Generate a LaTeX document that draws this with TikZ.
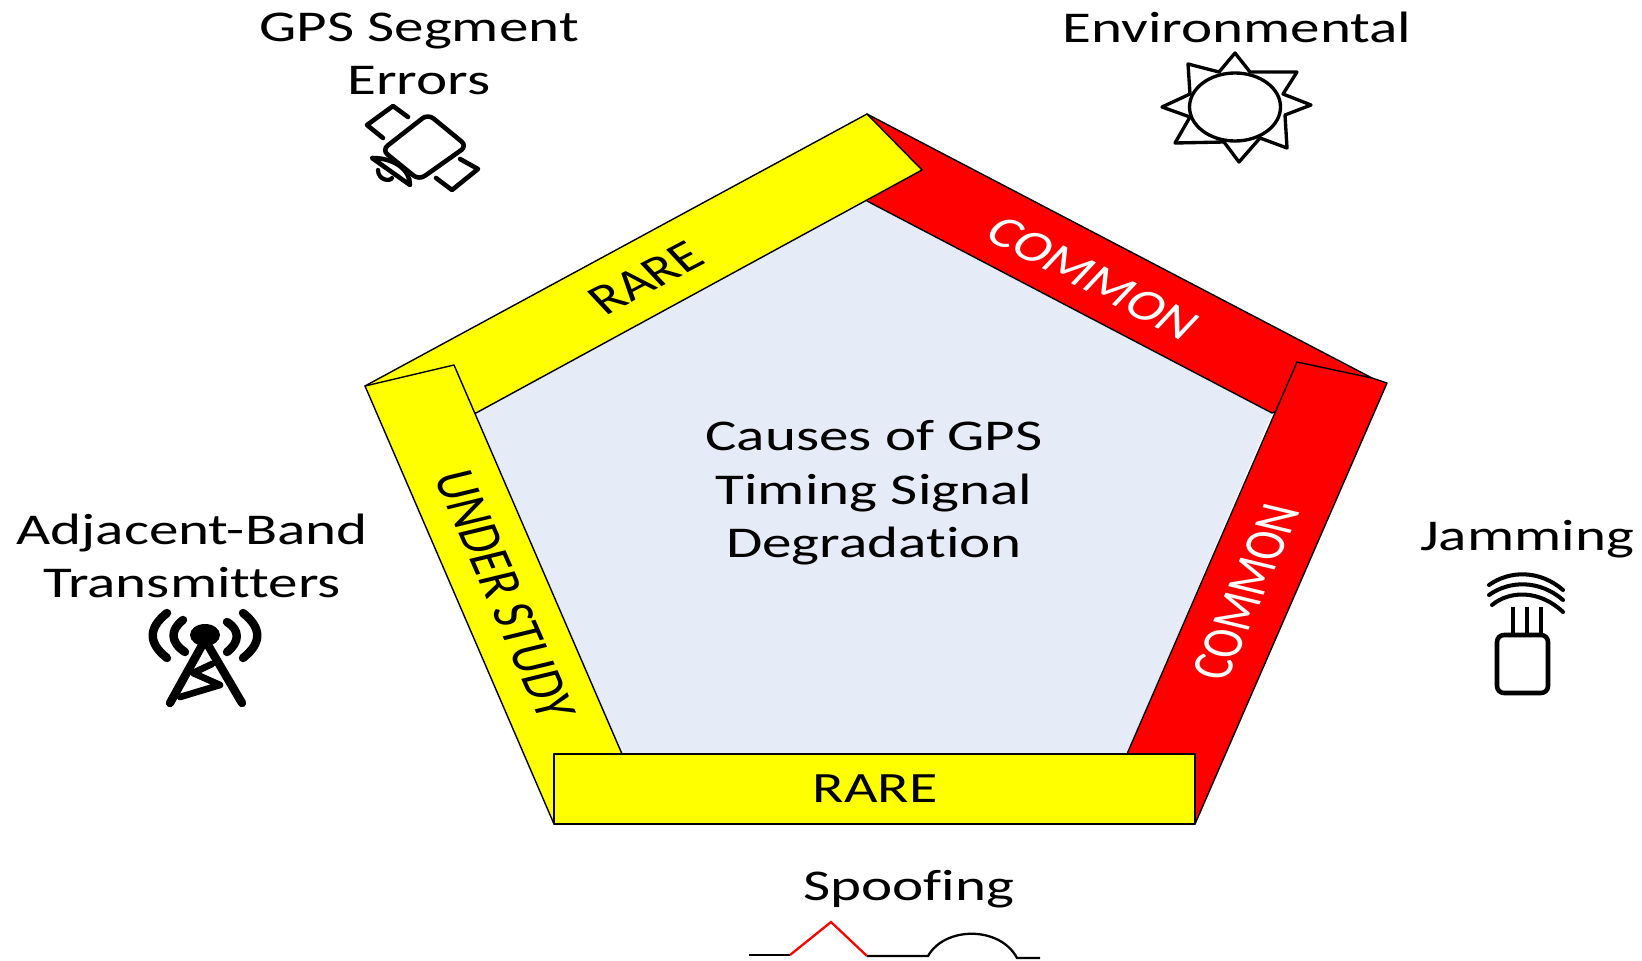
\documentclass[tikz,border=0pt]{standalone}
\usepackage{fontspec}
\setmainfont[Ligatures=NoCommon]{Carlito}
\definecolor{innerblue}{HTML}{E6ECF7}
\definecolor{bandyellow}{HTML}{FFFF00}
\definecolor{bandred}{HTML}{FF0000}
\tikzset{
    band/.style={draw=black, line width=0.8pt, line join=round},
    biglabel/.style={font=\fontsize{25}{30.4}\selectfont, align=center, xscale=1.345, transform shape},
    bandlabel/.style={font=\fontsize{24.6}{28}\selectfont, xscale=1.34, rotate=#1, transform shape},
    bandlabel/.default=0,
    icon/.style={black, line width=2.6pt, line cap=round, line join=round},
}
\begin{document}
\begin{tikzpicture}[x=0.02cm, y=-0.02cm]
    \useasboundingbox (0,0) rectangle (1642,960);
    % corners of the pentagon
    \coordinate (apex) at (867,114);
    \coordinate (apexin) at (867,201);
    \coordinate (tip) at (922,170);
    \coordinate (leftv) at (365,386);
    \coordinate (leftin) at (476,413);
    \coordinate (lefttop) at (454,365);
    \coordinate (rightv) at (1387,383);
    \coordinate (rightj) at (1372,378);
    \coordinate (rightin) at (1272,413);
    \coordinate (righttop) at (1297,362);
    \coordinate (botl) at (554,824);
    \coordinate (botr) at (1195,824);
    \coordinate (botlin) at (622,754);
    \coordinate (botrin) at (1127,754);
    % inner face
    \fill[innerblue] (apexin) -- (rightin) -- (botrin) -- (botlin) -- (leftin) -- cycle;
    % bands
    \draw[band, fill=bandred] (apex) -- (rightj) -- (rightin) -- (apexin) -- cycle;
    \draw[band, fill=bandyellow] (apex) -- (tip) -- (leftin) -- (leftv) -- cycle;
    \draw[band, fill=bandred] (righttop) -- (rightj) -- (rightv) -- (botr) -- (botrin) -- cycle;
    \draw[band, fill=bandyellow] (leftv) -- (lefttop) -- (botlin) -- (botl) -- cycle;
    \draw[band, fill=bandyellow] (botl) rectangle (1195,754);
    % band labels
    \node[bandlabel=-35, white] (commontop) at (1093,278) {COMMON};
    \node[bandlabel=35] (raretop) at (646,278) {RARE};
    \node[bandlabel=-72, font=\fontsize{25.2}{28}\selectfont] (study) at (505,595) {UNDER STUDY};
    \node[bandlabel=72, white] (commonright) at (1246,592) {COMMON};
    \node[bandlabel] (rarebot) at (875,789) {RARE};
    % labels
    \node[biglabel] (title) at (874,493) {Causes of GPS\\Timing Signal\\Degradation};
    \node[biglabel] (segment) at (419,54) {GPS Segment\\Errors};
    \node[biglabel] (envir) at (1237,27) {Environmental};
    \node[biglabel] (adjacent) at (192,556) {Adjacent-Band\\Transmitters};
    \node[biglabel] (jamming) at (1527,539) {Jamming};
    \node[biglabel] (spoofing) at (909,889) {Spoofing};
    % satellite
    \draw[icon, rounded corners=4pt] (428,114) -- (467,146) -- (419,180) -- (382,150) -- cycle;
    \draw[icon] (408,117) -- (393,106) -- (367,125) -- (383,138);
    \draw[icon] (460,159) -- (478,169) -- (452,190) -- (436,178);
    \draw[icon] (372,158) .. controls (395,158) and (410,170) .. (410,185) -- cycle;
    \draw[icon, line width=2.4pt] (378,170) .. controls (378,180) and (390,182) .. (392,178);
    % sun
    \draw[icon, line width=1.9pt, fill=white] (1235,53) -- (1250,72) -- (1297,72) -- (1283,94)
        -- (1311,105) -- (1285,115) -- (1287,148) -- (1260,138) -- (1239,162) -- (1224,142)
        -- (1175,143) -- (1190,117) -- (1162,107) -- (1190,94) -- (1188,64) -- (1219,72) -- cycle;
    \draw[icon, line width=1.9pt, fill=white] (1235,107) ellipse (45.5 and 34);
    % tower
    \fill (205,635) ellipse (15 and 11);
    \draw[icon, line width=4.8pt] (170,703) -- (205,640) -- (242,703);
    \draw[icon, line width=3.8pt] (180,697) -- (220,685) -- (193,673) -- (212,664);
    \draw[icon, line width=4.8pt] (167,613) .. controls (148,628) and (148,643) .. (167,658);
    \draw[icon, line width=4.8pt] (183,620) .. controls (170,630) and (170,642) .. (185,652);
    \draw[icon, line width=4.8pt] (243,613) .. controls (262,628) and (262,643) .. (243,658);
    \draw[icon, line width=4.8pt] (227,622) .. controls (240,630) and (240,642) .. (227,652);
    % jammer
    \draw[icon, rounded corners=4pt] (1497,635) rectangle (1548,693);
    \draw[icon, line width=2.6pt, line cap=butt] (1513,607) -- (1513,635) (1527,607) -- (1527,635) (1541,607) -- (1541,635);
    \draw[icon, line width=2.3pt] (1489,585) .. controls (1510,570) and (1540,570) .. (1563,590);
    \draw[icon, line width=2.3pt] (1489,595) .. controls (1510,580) and (1540,580) .. (1563,600);
    \draw[icon, line width=2.3pt] (1492,605) .. controls (1510,590) and (1540,590) .. (1563,612);
    % spoofed signal
    \draw[line width=1.3pt] (749,955) -- (790,955);
    \draw[bandred, line width=1.3pt] (790,955) -- (831,922) -- (867,956);
    \draw[line width=1.3pt] (867,956) -- (928,956) .. controls (945,926) and (1000,926) .. (1017,958) -- (1040,958);
\end{tikzpicture}
\end{document}
